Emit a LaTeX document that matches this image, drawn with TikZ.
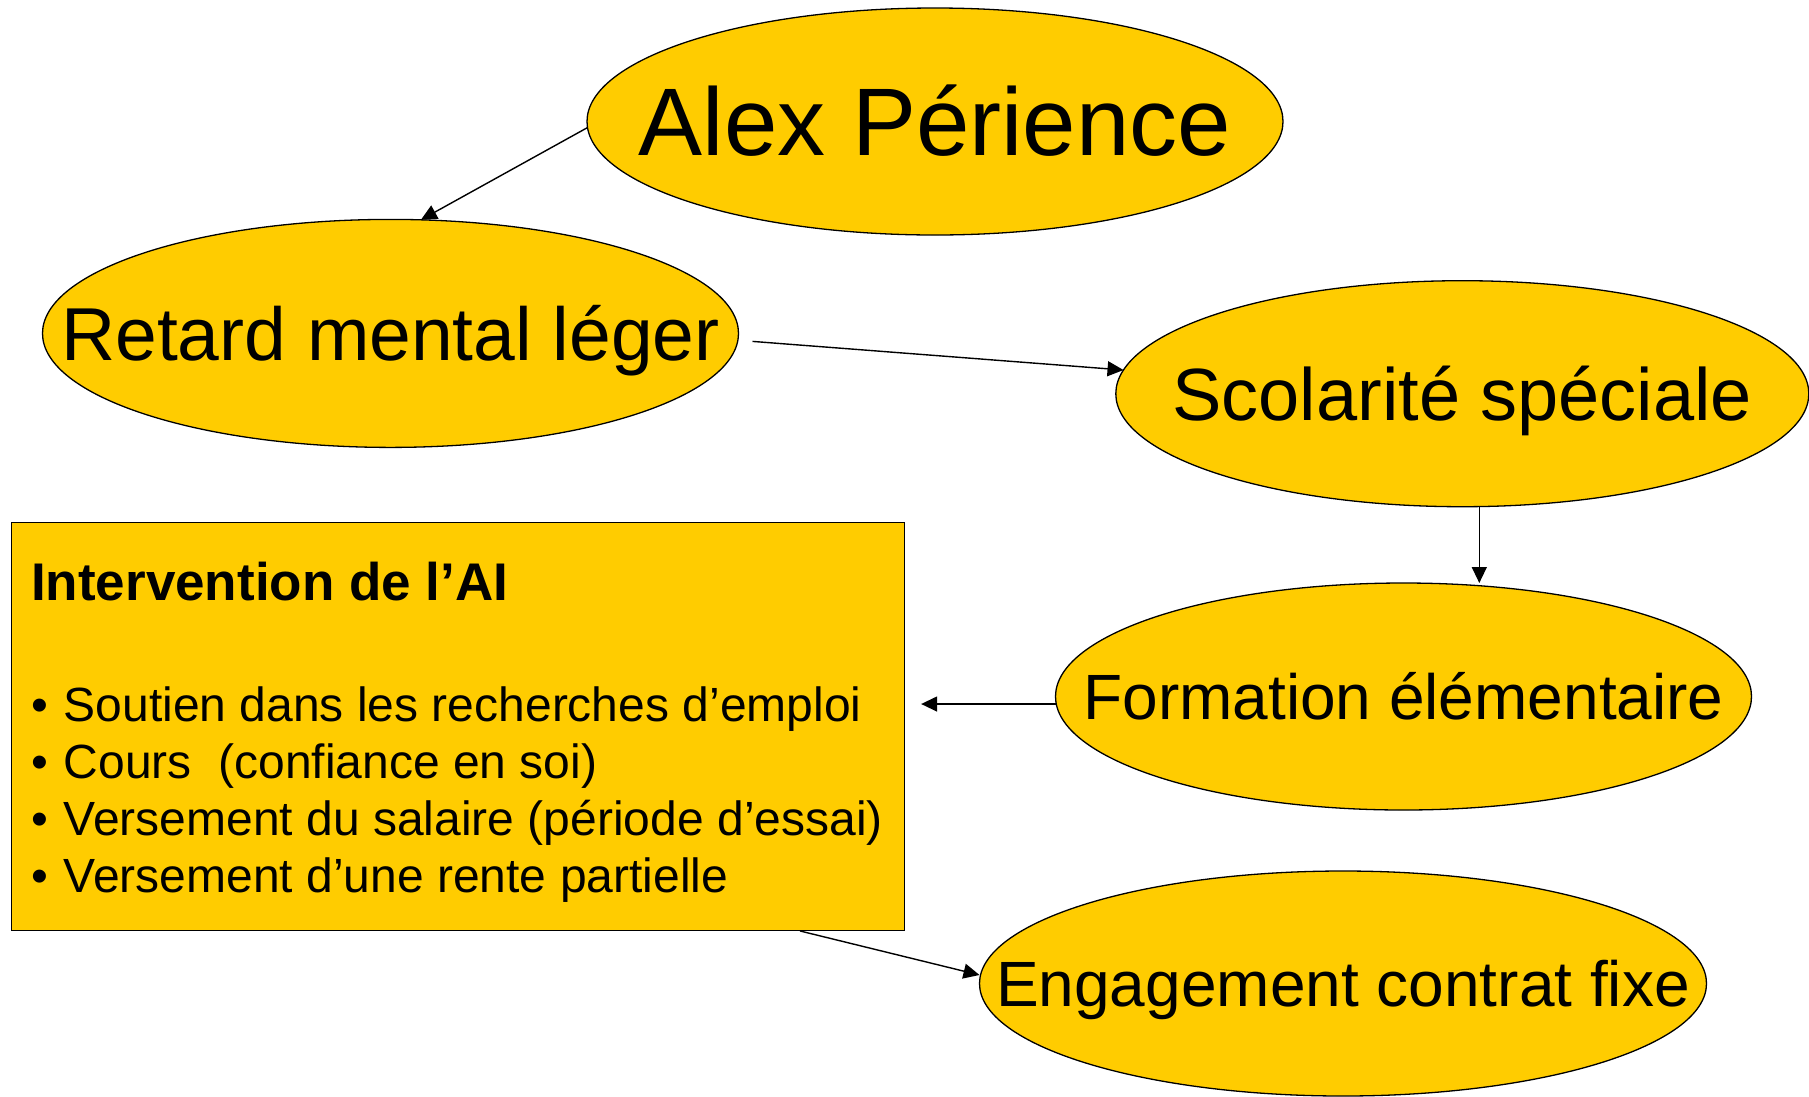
\documentclass[tikz,border=0pt]{standalone}
\usepackage{fontspec}
\setmainfont{Liberation Sans}
\usetikzlibrary{arrows.meta,shapes.geometric}
\definecolor{gold}{HTML}{FFCC00}
\newcommand{\ovaltext}[1]{\makebox[0pt][c]{\raisebox{-0.358em}[0pt][0pt]{#1}}}
\tikzset{
  oval/.style={ellipse, draw=black, line width=1.3pt, fill=gold, inner sep=0pt,
    outer sep=0pt, text height=0pt, text depth=0pt},
  aibox/.style={rectangle, draw=black, line width=1.3pt, fill=gold, inner sep=0pt},
  arr/.style={line width=1.4pt, -{Triangle[width=15pt,length=16pt]}},
  boxtxt/.style={anchor=base west, inner sep=0pt, font=\fontsize{48}{57}\selectfont},
}
\begin{document}
\begin{tikzpicture}[x=1pt,y=-1pt]
\useasboundingbox (0,0) rectangle (1809,1096);
\node[oval, minimum width=696pt, minimum height=227pt, font=\fontsize{96}{110}\selectfont] (alex) at (935,121.5) {\ovaltext{Alex Périence}};
\node[oval, minimum width=696pt, minimum height=228pt, font=\fontsize{75}{90}\selectfont] (retard) at (390.5,333.4) {\ovaltext{Retard mental léger}};
\node[oval, minimum width=693pt, minimum height=226pt, font=\fontsize{74}{90}\selectfont] (scol) at (1462.3,393.7) {\ovaltext{Scolarité spéciale}};
\node[oval, minimum width=696pt, minimum height=227pt, font=\fontsize{64}{77}\selectfont] (form) at (1403.5,696.5) {\ovaltext{Formation élémentaire}};
\node[oval, minimum width=727pt, minimum height=225pt, font=\fontsize{64}{77}\selectfont] (eng) at (1343,983.5) {\ovaltext{Engagement contrat fixe}};
\node[aibox, minimum width=893pt, minimum height=408pt] (ai) at (458,726.3) {};
\node[boxtxt, font=\fontsize{53}{64}\selectfont\bfseries] (t0) at (31,600) {Intervention de l’AI};
\node[boxtxt] (t1) at (31,721.5) {\makebox[32.6pt][l]{•}Soutien dans les recherches d’emploi};
\node[boxtxt] (t2) at (31,778.5) {\makebox[32.6pt][l]{•}Cours\ \ (confiance en soi)};
\node[boxtxt] (t3) at (31,835.5) {\makebox[32.6pt][l]{•}Versement du salaire (période d’essai)};
\node[boxtxt] (t4) at (31,892.5) {\makebox[32.6pt][l]{•}Versement d’une rente partielle};
\draw[arr] (alex.181.3) -- (retard.75);
\draw[arr] ([xshift=14pt,yshift=-8pt]retard.east) -- (scol.176.3);
\draw[arr] ([xshift=17pt]scol.south) -- ([xshift=17pt]scol.south |- form.north);
\draw[arr, shorten >=16pt] ([yshift=-7.5pt]form.west) -- ([yshift=-7.5pt]form.west -| ai.east);
\draw[arr] ([xshift=342pt]ai.south) -- ([yshift=8.5pt]eng.west);
\end{tikzpicture}
\end{document}
